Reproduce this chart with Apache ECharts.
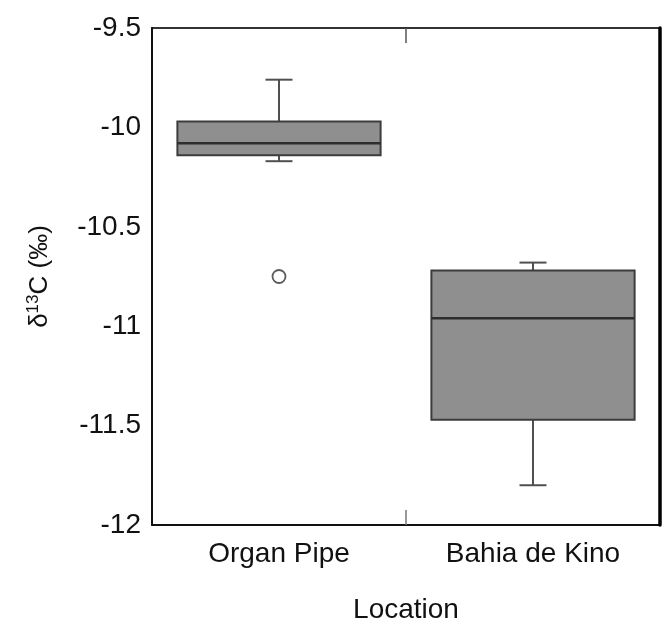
<!DOCTYPE html>
<html>
<head>
<meta charset="utf-8">
<script src="https://cdn.jsdelivr.net/npm/echarts@6/dist/echarts.min.js"></script>
<style>
  html, body { margin: 0; padding: 0; background: #fff; }
  #chart { width: 663px; height: 629px; }
</style>
</head>
<body>
<div id="chart"></div>
<script>
// 各地点的 δ13C 箱线图数据
const categories = ['Organ Pipe', 'Bahia de Kino'];
const whiskerLow = [-10.17, -11.80];
const q1 = [-10.14, -11.47];
const median = [-10.08, -10.96];
const q3 = [-9.97, -10.72];
const whiskerHigh = [-9.76, -10.68];
// 离群点 [类别序号, 值]
const outliers = [[0, -10.75]];
const yTicks = { min: -12, max: -9.5, step: 0.5 };

const boxData = categories.map((c, i) => [i, whiskerLow[i], q1[i], median[i], q3[i], whiskerHigh[i]]);

const font = 'Liberation Sans, Arial, sans-serif';

const renderBox = (params, api) => {
  const idx = api.value(0);
  const band = api.size([1, 0])[0];
  const half = band * 0.4;
  const cap = 13.5;
  const pLow = api.coord([idx, api.value(1)]);
  const pQ1 = api.coord([idx, api.value(2)]);
  const pMed = api.coord([idx, api.value(3)]);
  const pQ3 = api.coord([idx, api.value(4)]);
  const pHigh = api.coord([idx, api.value(5)]);
  const x = pMed[0];
  const lineStyle = { stroke: '#505050', lineWidth: 2 };
  return {
    type: 'group',
    children: [
      { type: 'line', shape: { x1: x, y1: pHigh[1], x2: x, y2: pQ3[1] }, style: lineStyle },
      { type: 'line', shape: { x1: x, y1: pLow[1], x2: x, y2: pQ1[1] }, style: lineStyle },
      { type: 'line', shape: { x1: x - cap, y1: pHigh[1], x2: x + cap, y2: pHigh[1] }, style: lineStyle },
      { type: 'line', shape: { x1: x - cap, y1: pLow[1], x2: x + cap, y2: pLow[1] }, style: lineStyle },
      {
        type: 'rect',
        shape: { x: x - half, y: pQ3[1], width: half * 2, height: pQ1[1] - pQ3[1] },
        style: { fill: '#8f8f8f', stroke: '#3c3c3c', lineWidth: 2 }
      },
      { type: 'line', shape: { x1: x - half, y1: pMed[1], x2: x + half, y2: pMed[1] }, style: { stroke: '#2e2e2e', lineWidth: 2.5 } }
    ]
  };
};

const chart = echarts.init(document.getElementById('chart'));
chart.setOption({
  backgroundColor: '#fff',
  animation: false,
  grid: { left: 152, right: 3, top: 28, bottom: 97 },
  xAxis: [
    {
      type: 'category',
      data: categories,
      boundaryGap: true,
      name: 'Location',
      nameLocation: 'middle',
      nameGap: 71,
      nameTextStyle: { fontFamily: font, fontSize: 28, color: '#111' },
      axisLine: { lineStyle: { color: '#111', width: 2 } },
      axisTick: { show: true, inside: true, length: 15, lineStyle: { color: '#777', width: 1.5 } },
      axisLabel: { fontFamily: font, fontSize: 28, color: '#111', margin: 15 },
      splitLine: { show: false }
    },
    {
      type: 'category',
      data: categories,
      position: 'top',
      boundaryGap: true,
      axisLine: { lineStyle: { color: '#333', width: 2 } },
      axisTick: { show: true, inside: true, length: 15, lineStyle: { color: '#555', width: 1.5 } },
      axisLabel: { show: false },
      splitLine: { show: false }
    }
  ],
  yAxis: [
    {
      type: 'value',
      min: yTicks.min,
      max: yTicks.max,
      interval: yTicks.step,
      z: 5,
      name: '{t|δ}{s|13}{t|C (‰)}',
      nameLocation: 'middle',
      nameGap: 98,
      nameRotate: 90,
      nameTextStyle: {
        rich: {
          t: { fontFamily: font, fontSize: 26, color: '#111' },
          s: { fontFamily: font, fontSize: 17, color: '#111', verticalAlign: 'top', padding: [0, 0, 12, 0] }
        }
      },
      axisLine: { show: true, lineStyle: { color: '#111', width: 2 } },
      axisTick: { show: false },
      axisLabel: { fontFamily: font, fontSize: 28, color: '#111', margin: 11, padding: [0, 0, 9, 0] },
      splitLine: { show: false }
    },
    {
      type: 'value',
      min: yTicks.min,
      max: yTicks.max,
      interval: yTicks.step,
      position: 'right',
      z: 5,
      axisLine: { show: true, lineStyle: { color: '#000', width: 3.5 } },
      axisTick: { show: false },
      axisLabel: { show: false },
      splitLine: { show: false }
    }
  ],
  series: [
    {
      type: 'custom',
      name: 'box',
      xAxisIndex: 0,
      yAxisIndex: 0,
      renderItem: renderBox,
      encode: { x: 0, y: [1, 2, 3, 4, 5] },
      data: boxData,
      z: 3
    },
    {
      type: 'scatter',
      name: 'outlier',
      xAxisIndex: 0,
      yAxisIndex: 0,
      symbol: 'circle',
      symbolSize: 13,
      itemStyle: { color: '#fff', borderColor: '#333', borderWidth: 1.8 },
      data: outliers,
      z: 4
    }
  ]
});
</script>
</body>
</html>
